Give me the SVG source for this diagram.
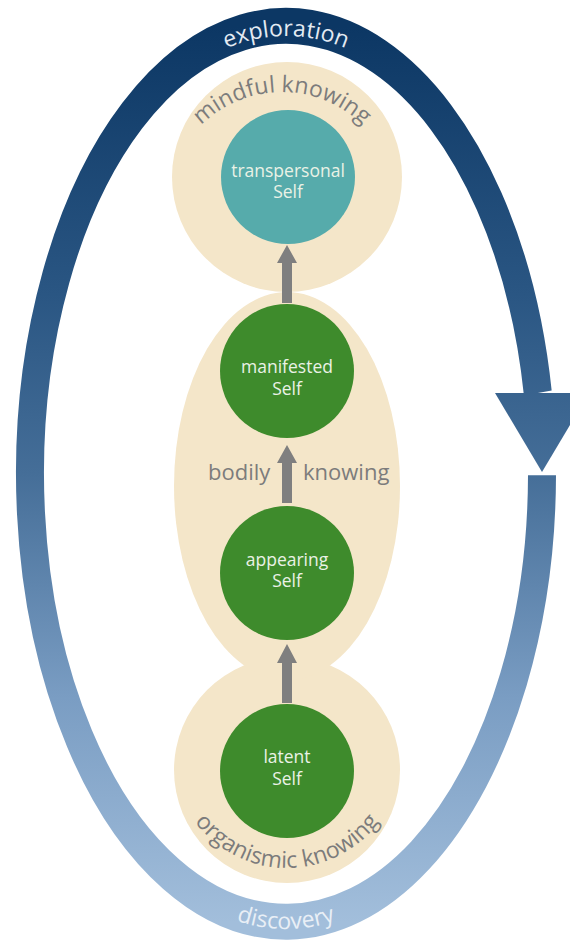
<svg xmlns="http://www.w3.org/2000/svg" width="570" height="941" viewBox="0 0 570 941">
<defs>
<linearGradient id="ring" x1="0" y1="0" x2="0" y2="1">
<stop offset="0" stop-color="#0c3764"/>
<stop offset="0.3" stop-color="#2a5683"/>
<stop offset="0.5" stop-color="#456e98"/>
<stop offset="0.75" stop-color="#7a9dc3"/>
<stop offset="1" stop-color="#a2bedb"/>
</linearGradient>
<linearGradient id="ringU" gradientUnits="userSpaceOnUse" x1="0" y1="26" x2="0" y2="922">
<stop offset="0" stop-color="#0c3764"/>
<stop offset="0.3" stop-color="#2a5683"/>
<stop offset="0.5" stop-color="#456e98"/>
<stop offset="0.75" stop-color="#7a9dc3"/>
<stop offset="1" stop-color="#a2bedb"/>
</linearGradient>
<path id="pExpl" d="M 33 474 A 253 438 0 0 1 539 474"/>
<path id="pDisc" d="M 25 474 A 261 455 0 0 0 547 474"/>
<path id="pMind" d="M 167 207 A 115 115 0 0 1 397 207"/>
<path id="pOrg" d="M 172 753 A 115 115 0 0 0 402 753"/>
</defs>
<style>
.beige{fill:#f4e6c9}
.green{fill:#3e8b2c}
.teal{fill:#56abab}
.arrow{fill:#7f7f7f}
.nt{font-family:"Open Sans",sans-serif;font-size:17.5px;fill:#eaf2e6;text-anchor:middle}
.gt{font-family:"Open Sans",sans-serif;font-size:22px;fill:#7c7c7c}
.ct{font-family:"Open Sans",sans-serif;font-size:23px;fill:#7c7c7c;text-anchor:middle}
.rt{font-family:"Open Sans",sans-serif;font-size:23px;text-anchor:middle}
</style>
<rect width="570" height="941" fill="#ffffff"/>
<g id="cycle">
<path transform="translate(0,474) scale(1,1.2857)" d="M 542 1 A 256 348.4 0 1 1 537.8 -63" fill="none" stroke="url(#ring)" stroke-width="28"/>
<polygon points="495,393 589,393 542,472" fill="url(#ringU)"/>
<text class="rt" fill="#e4ebf3"><textPath href="#pExpl" startOffset="50%">exploration</textPath></text>
<text class="rt" fill="#e9eff6"><textPath href="#pDisc" startOffset="50%">discovery</textPath></text>
</g>
<g id="mindful-knowing">
<circle class="beige" cx="287" cy="177" r="115"/>
<text class="ct"><textPath href="#pMind" startOffset="50%">mindful knowing</textPath></text>
</g>
<g id="organismic-knowing">
<circle class="beige" cx="287" cy="770" r="113"/>
<text class="ct"><textPath href="#pOrg" startOffset="50%">organismic knowing</textPath></text>
</g>
<g id="bodily-knowing">
<ellipse class="beige" cx="287" cy="486" rx="113" ry="194"/>
<text class="gt" x="208" y="480">bodily</text>
<text class="gt" x="303" y="480">knowing</text>
</g>
<g id="connectors">
<polygon class="arrow" points="282,303 282,263 277,263 287,245 297,263 292,263 292,303"/>
<polygon class="arrow" points="282,503 282,463 277,463 287,445 297,463 292,463 292,503"/>
<polygon class="arrow" points="282,703 282,663 277,663 287,644 297,663 292,663 292,703"/>
</g>
<g id="transpersonal-self">
<circle class="teal" cx="288" cy="177" r="67"/>
<text class="nt" x="288" y="177">transpersonal</text>
<text class="nt" x="288" y="198">Self</text>
</g>
<g id="manifested-self">
<circle class="green" cx="287" cy="371" r="67"/>
<text class="nt" x="287" y="373">manifested</text>
<text class="nt" x="287" y="395">Self</text>
</g>
<g id="appearing-self">
<circle class="green" cx="287" cy="573" r="67"/>
<text class="nt" x="287" y="566">appearing</text>
<text class="nt" x="287" y="587">Self</text>
</g>
<g id="latent-self">
<circle class="green" cx="287" cy="771" r="67"/>
<text class="nt" x="287" y="763">latent</text>
<text class="nt" x="287" y="785">Self</text>
</g>
</svg>
